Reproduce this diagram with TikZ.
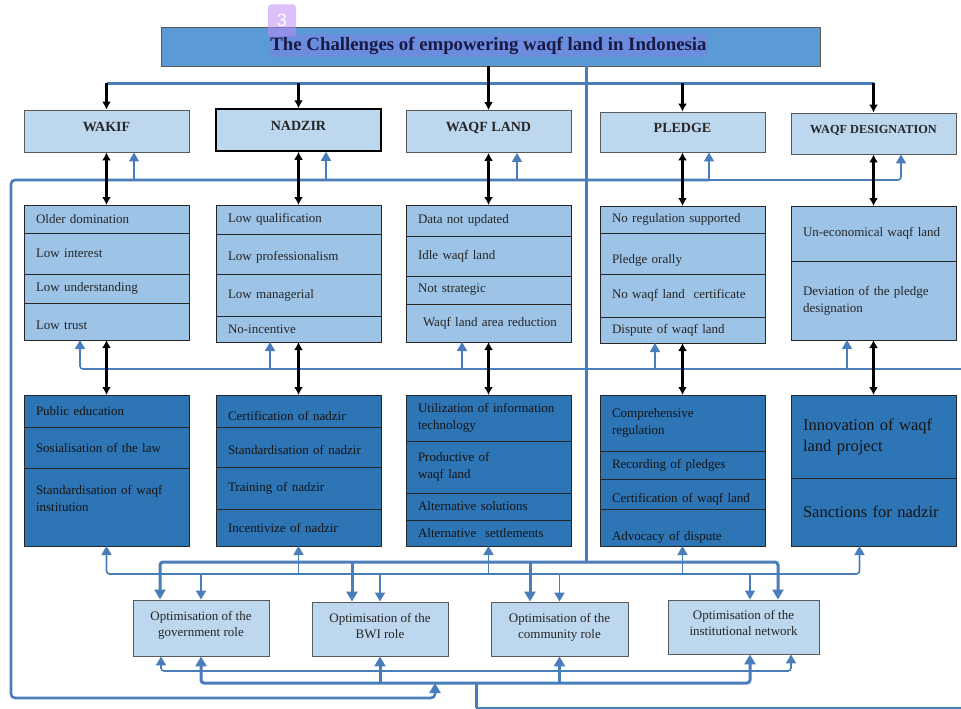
\documentclass[tikz,border=0pt]{standalone}
\usepackage{fontspec}
\setmainfont{Liberation Serif}
\setsansfont{Liberation Sans}
\usetikzlibrary{positioning,arrows.meta}
\definecolor{linkblue}{RGB}{74,126,187}
\definecolor{headfill}{RGB}{189,215,238}
\definecolor{probfill}{RGB}{157,195,230}
\definecolor{solfill}{RGB}{46,117,182}
\definecolor{titlefill}{RGB}{91,155,213}
\definecolor{titlehl}{RGB}{108,140,222}
\definecolor{titleink}{RGB}{25,25,70}
\definecolor{badgefill}{RGB}{190,140,246}
\definecolor{framegray}{RGB}{90,90,90}

\begin{document}
\begin{tikzpicture}[x=1pt,y=-1pt,
  hbox/.style={draw=framegray, line width=0.9pt, fill=headfill, minimum width=165pt, minimum height=42pt, inner sep=0pt, text=black!85, font=\fontsize{14}{16}\selectfont\bfseries, text height=10pt, text depth=10pt},
  pbox/.style={draw=black!85, line width=0.9pt, fill=probfill, anchor=north west, text width=141pt, inner xsep=12pt, inner ysep=0pt, outer sep=0pt, align=left, text=black!85, font=\fontsize{13}{17}\selectfont},
  sbox/.style={pbox, fill=solfill, text=black!92},
  obox/.style={draw=framegray, line width=0.9pt, fill=headfill, align=center, inner sep=0pt, text=black!85, font=\fontsize{13}{16}\selectfont},
  blk/.style={line width=2.2pt, {Latex[length=8pt,width=9pt]}-{Latex[length=8pt,width=9pt]}},
  blk1/.style={line width=2.2pt, -{Latex[length=8pt,width=9pt]}},
  bl/.style={linkblue, line width=1.6pt, -{Triangle[length=9pt,width=10pt]}},
  bl2/.style={bl, {Triangle[length=9pt,width=10pt]}-{Triangle[length=9pt,width=10pt]}},
  bt/.style={linkblue, line width=3pt, -{Triangle[length=10pt,width=11pt]}},
  bt2/.style={bt, {Triangle[length=10pt,width=11pt]}-{Triangle[length=10pt,width=11pt]}}
]
\useasboundingbox (0,0) rectangle (961,709);

% title
\node[draw=framegray, line width=0.9pt, fill=titlefill, minimum width=659pt, minimum height=39pt] (title) at (490.5,46.5) {};
\node[fill=titlehl, inner xsep=1pt, inner ysep=2.5pt, text=titleink, font=\fontsize{18.8}{20}\selectfont\bfseries] (ttext) at (488.5,45.5) {The Challenges of empowering waqf land in Indonesia};
\node[fill=badgefill, fill opacity=0.55, text opacity=1, text=white, rounded corners=3pt, minimum width=28pt, minimum height=32pt, inner sep=0pt, font=\sffamily\fontsize{18}{18}\selectfont] (badge) at (282,20.5) {3};

% headers
\node[hbox] (hwakif) at (106.5,131) {WAKIF};
\node[hbox, draw=black, line width=1.5pt] (hnadzir) at (298.5,130) {NADZIR};
\node[hbox] (hwaqf) at (488.5,131.5) {WAQF LAND};
\node[hbox, minimum height=40pt] (hpledge) at (682.5,132) {PLEDGE};
\node[hbox, minimum height=41pt, font=\fontsize{12.3}{14}\selectfont\bfseries] (hdesig) at (873.5,133.5) {WAQF DESIGNATION};

% challenges
\node[pbox, minimum height=28pt] (pw1) at (24,205) {Older domination};
\node[pbox, minimum height=41pt, below=0pt of pw1] (pw2) {Low interest};
\node[pbox, minimum height=29pt, below=0pt of pw2] (pw3) {Low understanding};
\node[pbox, minimum height=37pt, text height=16pt, below=0pt of pw3] (pw4) {Low trust};

\node[pbox, minimum height=29pt] (pn1) at (216,205) {Low qualification};
\node[pbox, minimum height=40pt, text height=16pt, below=0pt of pn1] (pn2) {Low professionalism};
\node[pbox, minimum height=42pt, below=0pt of pn2] (pn3) {Low managerial};
\node[pbox, minimum height=26pt, below=0pt of pn3] (pn4) {No-incentive};

\node[pbox, minimum height=31pt] (pq1) at (406,205) {Data not updated};
\node[pbox, minimum height=40pt, below=0pt of pq1] (pq2) {Idle waqf land};
\node[pbox, minimum height=28pt, below=0pt of pq2] (pq3) {Not strategic};
\node[pbox, minimum height=38pt, below=0pt of pq3] (pq4) {\hspace*{5pt}Waqf land area reduction};

\node[pbox, minimum height=27pt] (pp1) at (600,206) {No regulation supported};
\node[pbox, minimum height=41pt, text height=22pt, below=0pt of pp1] (pp2) {Pledge orally};
\node[pbox, minimum height=43pt, below=0pt of pp2] (pp3) {No waqf land\ \ certificate};
\node[pbox, minimum height=26pt, below=0pt of pp3] (pp4) {Dispute of waqf land};

\node[pbox, minimum height=55pt] (pd1) at (791,206) {Un-economical waqf land};
\node[pbox, minimum height=79pt, below=0pt of pd1] (pd2) {Deviation of the pledge\\designation};

% solutions
\node[sbox, minimum height=32pt] (sw1) at (24,395) {Public education};
\node[sbox, minimum height=41pt, below=0pt of sw1] (sw2) {Sosialisation of the law};
\node[sbox, minimum height=78pt, text depth=34pt, below=0pt of sw2] (sw3) {Standardisation of waqf\\institution};

\node[sbox, minimum height=32pt, text height=20pt] (sn1) at (216,395) {Certification of nadzir};
\node[sbox, minimum height=40pt, text height=16pt, below=0pt of sn1] (sn2) {Standardisation of nadzir};
\node[sbox, minimum height=42pt, below=0pt of sn2] (sn3) {Training of nadzir};
\node[sbox, minimum height=37pt, below=0pt of sn3] (sn4) {Incentivize of nadzir};

\node[sbox, minimum height=46pt] (sq1) at (406,395) {Utilization of information\\technology};
\node[sbox, minimum height=52pt, below=0pt of sq1] (sq2) {Productive of\\waqf land};
\node[sbox, minimum height=27pt, below=0pt of sq2] (sq3) {Alternative solutions};
\node[sbox, minimum height=26pt, below=0pt of sq3] (sq4) {Alternative\ \ settlements};

\node[sbox, minimum height=56pt] (sp1) at (600,395) {Comprehensive\\regulation};
\node[sbox, minimum height=28pt, below=0pt of sp1] (sp2) {Recording of pledges};
\node[sbox, minimum height=30pt, text height=20pt, below=0pt of sp2] (sp3) {Certification of waqf land};
\node[sbox, minimum height=37pt, text height=28pt, below=0pt of sp3] (sp4) {Advocacy of dispute};

\node[sbox, minimum height=83pt, font=\fontsize{16.5}{21}\selectfont] (sd1) at (791,395) {Innovation of waqf\\land project};
\node[sbox, minimum height=68pt, font=\fontsize{16.5}{21}\selectfont, below=0pt of sd1] (sd2) {Sanctions for nadzir};

% optimisation
\node[obox, minimum width=136pt, minimum height=56pt, text depth=9pt] (ogov) at (201,628) {Optimisation of the\\government role};
\node[obox, minimum width=136pt, minimum height=54pt, text depth=6pt] (obwi) at (380,629) {Optimisation of the\\BWI role};
\node[obox, minimum width=137pt, minimum height=54pt, text depth=6pt] (ocom) at (559.5,629) {Optimisation of the\\community role};
\node[obox, minimum width=151pt, minimum height=54pt, text depth=8pt] (oinst) at (743.5,627) {Optimisation of the\\institutional network};

% levels of the blue lines
\coordinate (bar1) at (0,83);
\coordinate (bar2) at (0,180);
\coordinate (bar3) at (0,369);
\coordinate (bar4) at (0,562);
\coordinate (bar5) at (0,574);
\coordinate (bar6) at (0,671);
\coordinate (bar7) at (0,683);
\coordinate (bar8) at (0,698);
\coordinate (bar9) at (0,708);
\coordinate (spine) at (586,0);
\coordinate (L) at (11,0);
\coordinate (lp) at (435,0);
\coordinate (m) at (476,0);
\coordinate (R) at (961,0);

\coordinate (a1) at ([xshift=27.5pt]hwakif.south);
\coordinate (a2) at ([xshift=27.5pt]hnadzir.south);
\coordinate (a3) at ([xshift=28.5pt]hwaqf.south);
\coordinate (a4) at ([xshift=26.5pt]hpledge.south);
\coordinate (a5) at ([xshift=27.5pt]hdesig.south);
\coordinate (b1) at ([xshift=-26.5pt]pw4.south);
\coordinate (b2) at ([xshift=-28.5pt]pn4.south);
\coordinate (b3) at ([xshift=-26.5pt]pq4.south);
\coordinate (b4) at ([xshift=-27.5pt]pp4.south);
\coordinate (b5) at ([xshift=-26.5pt]pd2.south);
\coordinate (d1) at ([xshift=-41pt]ogov.north);
\coordinate (d2) at ([xshift=-28pt]obwi.north);
\coordinate (d3) at ([xshift=-29.5pt]ocom.north);
\coordinate (d4) at ([xshift=34.5pt]oinst.north);
\coordinate (e5) at ([xshift=-14pt]sd2.south);
\coordinate (g4) at ([xshift=6.5pt]oinst.north);
\coordinate (h1) at ([xshift=-40pt]ogov.south);
\coordinate (h2) at ([xshift=47.5pt]oinst.south);
\coordinate (k4) at ([xshift=6.5pt]oinst.south);

% blue lines
\draw[linkblue, line width=3pt] (spine |- title.south) -- (spine |- bar4);
\draw[linkblue, line width=3pt] (hwakif.north |- bar1) -- (hdesig.north |- bar1);

\draw[linkblue, line width=2.6pt, rounded corners=4pt, -{Triangle[length=10pt,width=11pt]}] (a4 |- bar2) -- (L |- bar2) -- (L |- bar8) -- (lp |- bar8) -- (lp |- bar7);
\draw[bl, rounded corners=3pt] (a4 |- bar2) -- (a5 |- bar2) -- (a5);
\draw[bl] (a1 |- bar2) -- (a1);
\draw[bl] (a2 |- bar2) -- (a2);
\draw[bl] (a3 |- bar2) -- (a3);
\draw[bl] (a4 |- bar2) -- (a4);

\draw[bl, rounded corners=3pt] (R |- bar3) -- (b1 |- bar3) -- (b1);
\draw[bl] (b2 |- bar3) -- (b2);
\draw[bl] (b3 |- bar3) -- (b3);
\draw[bl] (b4 |- bar3) -- (b4);
\draw[bl] (b5 |- bar3) -- (b5);

\draw[bt, rounded corners=3pt] (spine |- bar4) -- (d1 |- bar4) -- (d1);
\draw[bt, rounded corners=3pt] (spine |- bar4) -- (d4 |- bar4) -- (d4);
\draw[bt] (d2 |- bar4) -- (d2);
\draw[bt] (d3 |- bar4) -- (d3);

\draw[bl2, rounded corners=3pt] (sw3.south) -- (sw3.south |- bar5) -- (e5 |- bar5) -- (e5);
\draw[bl] (sn4.south |- bar5) -- (sn4.south);
\draw[bl] (sq4.south |- bar5) -- (sq4.south);
\draw[bl] (sp4.south |- bar5) -- (sp4.south);
\draw[bl] (ogov.north |- bar5) -- (ogov.north);
\draw[bl] (obwi.north |- bar5) -- (obwi.north);
\draw[bl] (ocom.north |- bar5) -- (ocom.north);
\draw[bl] (g4 |- bar5) -- (g4);

\draw[bl2, rounded corners=3pt] (h1) -- (h1 |- bar6) -- (h2 |- bar6) -- (h2);
\draw[bt2, rounded corners=3pt] (ogov.south) -- (ogov.south |- bar7) -- (k4 |- bar7) -- (k4);
\draw[bt] (obwi.south |- bar7) -- (obwi.south);
\draw[bt] (ocom.south |- bar7) -- (ocom.south);

\draw[linkblue, line width=3pt] (m |- bar7) -- (m |- bar9);
\draw[linkblue, line width=1.6pt] (m |- bar9) -- (R |- bar9);

% black arrows
\draw[blk1] (hwakif.north |- bar1) -- (hwakif.north);
\draw[blk1] (hnadzir.north |- bar1) -- (hnadzir.north);
\draw[blk1] (hwaqf.north |- title.south) -- (hwaqf.north);
\draw[blk1] (hpledge.north |- bar1) -- (hpledge.north);
\draw[blk1] (hdesig.north |- bar1) -- (hdesig.north);

\draw[blk] (hwakif.south) -- (pw1.north);
\draw[blk] (hnadzir.south) -- (pn1.north);
\draw[blk] (hwaqf.south) -- (pq1.north);
\draw[blk] (hpledge.south) -- (pp1.north);
\draw[blk] (hdesig.south) -- (pd1.north);

\draw[blk] (pw4.south) -- (sw1.north);
\draw[blk] (pn4.south) -- (sn1.north);
\draw[blk] (pq4.south) -- (sq1.north);
\draw[blk] (pp4.south) -- (sp1.north);
\draw[blk] (pd2.south) -- (sd1.north);
\end{tikzpicture}
\end{document}
